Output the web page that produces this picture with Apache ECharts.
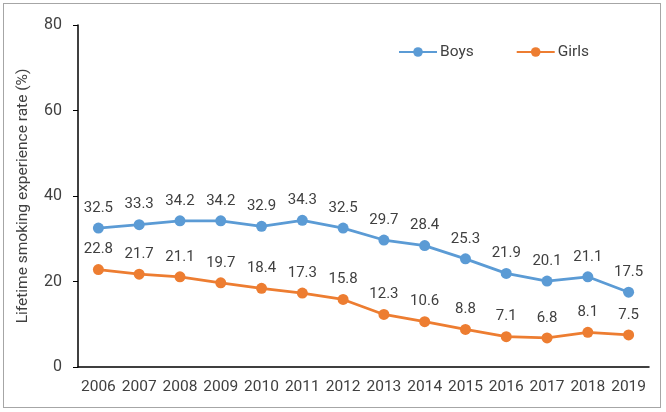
<!DOCTYPE html>
<html><head><meta charset="utf-8">
<script src="https://cdn.jsdelivr.net/npm/echarts@6/dist/echarts.min.js"></script>
<style>html,body{margin:0;padding:0;background:#fff}#c{width:666px;height:412px}
#frame{position:absolute;left:3px;top:3px;width:658px;height:405px;border:1px solid #a6a6a6;pointer-events:none;box-sizing:border-box}</style>
</head><body><div id="c"></div><div id="frame"></div>
<script>
const years = ['2006','2007','2008','2009','2010','2011','2012','2013','2014','2015','2016','2017','2018','2019'];
const boys = [32.5,33.3,34.2,34.2,32.9,34.3,32.5,29.7,28.4,25.3,21.9,20.1,21.1,17.5];
const girls = [22.8,21.7,21.1,19.7,18.4,17.3,15.8,12.3,10.6,8.8,7.1,6.8,8.1,7.5];
const yTicks = [0,20,40,60,80];
const chart = echarts.init(document.getElementById('c'));
const font = 'Roboto, "Liberation Sans", sans-serif';
function s(name, data, color){
  return {name, type:'line', data, symbol:'circle', symbolSize:11,
    lineStyle:{color, width:2.75}, itemStyle:{color},
    label:{show:true, position:'top', distance:7, color:'#404040', fontSize:15, fontFamily:font, formatter:p=>p.value.toFixed(1)}};
}
chart.setOption({
  animation:false,
  textStyle:{fontFamily:font},
  legend:{top:39, left:393, itemGap:42, itemWidth:38, itemHeight:12,
    textStyle:{color:'#404040', fontSize:15.5, fontFamily:font, padding:[0,0,0,-2]},
    data:['Boys','Girls']},
  grid:{left:78, right:17, top:25, bottom:45},
  xAxis:{type:'category', data:years, boundaryGap:true,
    axisLine:{lineStyle:{color:'#000', width:1.5}}, axisTick:{show:false},
    axisLabel:{interval:0, color:'#404040', fontSize:15.5, margin:12, fontFamily:font}},
  yAxis:{type:'value', min:yTicks[0], max:yTicks[yTicks.length-1], interval:20,
    name:'Lifetime smoking experience rate (%)', nameLocation:'middle', nameGap:47, nameRotate:90,
    nameTextStyle:{color:'#404040', fontSize:15.5, fontFamily:font},
    axisLine:{show:true, lineStyle:{color:'#000', width:1.5}},
    axisTick:{show:true, length:5, lineStyle:{color:'#000'}},
    splitLine:{show:false},
    axisLabel:{color:'#404040', fontSize:16, margin:16, fontFamily:font}},
  series:[s('Boys', boys, '#5B9BD5'), s('Girls', girls, '#ED7D31')]
});
</script></body></html>
